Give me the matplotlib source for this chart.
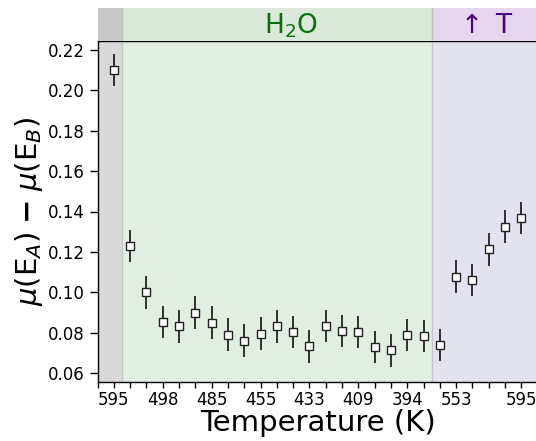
import matplotlib
matplotlib.use("Agg")
import matplotlib.pyplot as plt
import numpy as np

# Data
values = [0.210, 0.123, 0.100, 0.0853, 0.0833, 0.0901, 0.0851, 0.0792, 0.0762,
          0.0797, 0.0833, 0.0805, 0.0734, 0.0836, 0.0810, 0.0805, 0.0730, 0.0714,
          0.0790, 0.0785, 0.0742, 0.1079, 0.1061, 0.1213, 0.1325, 0.1368]
errors = [0.008] * len(values)
tick_pos = [0, 3, 6, 9, 12, 15, 18, 21, 25]
tick_labels = ['595', '498', '485', '455', '433', '409', '394', '553', '595']
regions = [(-1, 0.5), (0.5, 19.5), (19.5, 26)]
region_names = ['', r'H$_2$O', r'$\uparrow$ T']

W, H = 536, 441
fig = plt.figure(figsize=(W / 100, H / 100), dpi=100)

left, right = 97.5, 537.6
top_band, top_main, bottom = 8, 41, 382
ax = fig.add_axes([left / W, 1 - bottom / H, (right - left) / W, (bottom - top_main) / H])
axt = fig.add_axes([left / W, 1 - top_main / H, (right - left) / W, (top_main - top_band) / H], sharex=ax)

main_cols = ['#d9d9d9', '#e3eee3', '#e3e3f0']
band_cols = ['#c8c8c8', '#dbe9db', '#e3d6ee']
for (a, b), c1, c2 in zip(regions, main_cols, band_cols):
    ax.axvspan(a, b, color=c1, lw=0, zorder=0)
    axt.axvspan(a, b, color=c2, lw=0, zorder=0)
for xb in [0.5, 19.5]:
    ax.axvline(xb, color='#c6c6c6', lw=1.0, zorder=1)
    axt.axvline(xb, color='#c0c0c0', lw=1.0, zorder=1)

x = np.arange(len(values))
ax.errorbar(x, values, yerr=errors, fmt='s', ms=6.0, mfc='white', mec='#222222',
            mew=1.0, ecolor='#111111', elinewidth=1.2, capsize=0, zorder=3)

ax.set_xlim(-1, 26)
ax.set_ylim(0.0558, 0.2242)
ax.set_xticks(np.arange(-1, 27))
ax.set_xticklabels([tick_labels[tick_pos.index(i)] if i in tick_pos else '' for i in range(-1, 27)])
ax.set_yticks(np.arange(0.06, 0.2201, 0.02))
ax.set_yticklabels([f'{v:.2f}' for v in np.arange(0.06, 0.2201, 0.02)])
ax.tick_params(axis='x', length=4.5, width=1.0, labelsize=12, pad=2)
ax.tick_params(axis='y', length=6, width=1.0, labelsize=12, pad=3)
for s in ax.spines.values():
    s.set_linewidth(1.0)
    s.set_color('black')
ax.set_xlabel('Temperature (K)', fontsize=21, labelpad=0)
ax.set_ylabel(r'$\mu(\mathrm{E}_A)\;\mathbf{-}\;\mu(\mathrm{E}_B)$', fontsize=21, labelpad=2)

axt.set_ylim(0, 1)
axt.axis('off')
axt.text(10.85, 0.45, region_names[1], color='#0a6e0a', fontsize=19, ha='center', va='center')
axt.text(22.75, 0.45, region_names[2], color='#4b0082', fontsize=19, ha='center', va='center')

fig.savefig('out.png', dpi=100)
